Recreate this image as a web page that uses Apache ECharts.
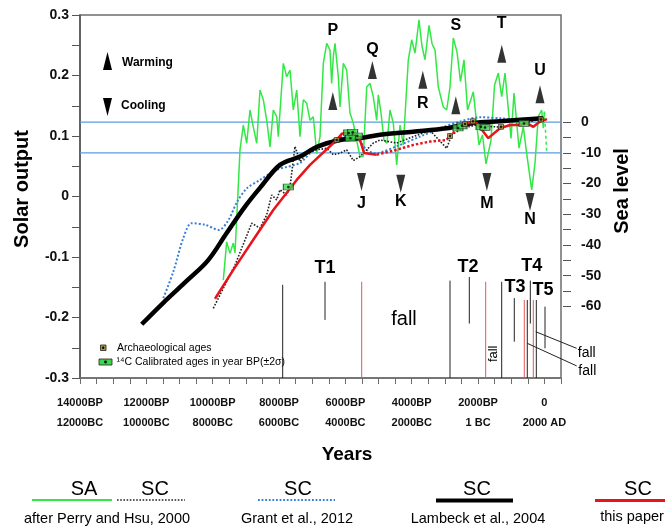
<!DOCTYPE html>
<html><head><meta charset="utf-8">
<script src="https://cdn.jsdelivr.net/npm/echarts@6/dist/echarts.min.js"></script>
<style>html,body{margin:0;padding:0;background:#fff}#c{width:665px;height:526px}</style>
</head><body><div id="c"></div>
<script>
// ---------- data (x = years BP, solar output on left axis, sea level in m on right axis) ----------
const xTickValues = [14000, 12000, 10000, 8000, 6000, 4000, 2000, 0];
const xTickBP  = ['14000BP', '12000BP', '10000BP', '8000BP', '6000BP', '4000BP', '2000BP', '0'];
const xTickCal = ['12000BC', '10000BC', '8000BC', '6000BC', '4000BC', '2000BC', '1 BC', '2000 AD'];
const seaTickLabels = [0, -10, -20, -30, -40, -50, -60];
const seaRefLevels = [0, -10];

// Solar activity (after Perry and Hsu, 2000)
const saPerryHsu = [[9680,-0.138],[9578,-0.075],[9478,-0.094],[9379,-0.077],[9327,-0.093],[9258,-0.017],[9177,0.077],[9077,0.118],[8975,0.088],[8875,0.143],[8776,0.115],[8673,0.088],[8574,0.176],[8474,0.160],[8372,0.126],[8272,0.082],[8173,0.143],[8070,0.132],[8022,0.099],[7871,0.220],[7769,0.198],[7669,0.209],[7570,0.143],[7467,0.176],[7368,0.099],[7268,0.160],[7166,0.154],[7066,0.126],[6967,0.132],[6864,0.071],[6765,0.099],[6665,0.220],[6563,0.253],[6464,0.242],[6413,0.187],[6364,0.231],[6313,0.253],[6213,0.198],[6162,0.148],[6062,0.220],[5960,0.209],[5861,0.138],[5761,0.121],[5659,0.093],[5559,0.066],[5460,0.066],[5357,0.181],[5258,0.187],[5158,0.165],[5056,0.126],[5007,0.168],[4926,0.138],[4836,0.093],[4745,0.088],[4655,0.143],[4555,0.121],[4453,0.052],[4353,0.118],[4254,0.085],[4103,0.226],[4001,0.259],[3901,0.237],[3781,0.292],[3690,0.248],[3600,0.226],[3479,0.283],[3389,0.253],[3298,0.242],[3199,0.181],[3048,0.148],[2946,0.143],[2846,0.181],[2746,0.262],[2635,0.239],[2530,0.190],[2424,0.226],[2318,0.143],[2143,0.173],[1972,0.085],[1866,0.102],[1761,0.054],[1610,0.093],[1504,0.184],[1390,0.204],[1288,0.165],[1188,0.204],[1007,0.096],[917,0.171],[766,0.080],[636,0.115],[534,0.071],[383,0.011],[284,0.055],[184,0.132],[82,0.143],[33,0.113],[0,0.140]];
const saPerryHsuTail = [[0,0.140],[-70,0.072]];

// Sea-level curves (m)
const scPerryHsu = [[9982,-60.6],[9327,-46.5],[8824,-32.9],[8574,-34.5],[8372,-30.2],[8221,-23.7],[8070,-25.3],[7971,-22.0],[7769,-23.7],[7669,-21.0],[7519,-7.9],[7368,-12.8],[7166,-10.1],[6865,-9.0],[6563,-8.5],[6364,-10.6],[6162,-10.1],[5960,-9.0],[5761,-12.5],[5559,-11.2],[5158,-6.8],[4956,-5.8],[4453,-6.8],[3952,-4.7],[3449,-2.7],[2946,-8.5],[2795,-4.1],[2454,-1.9],[2041,-0.9],[1640,-1.4],[1339,-1.6],[938,-0.9],[636,-0.3],[234,0.7]];
const scGrant = [[11489,-57.3],[11187,-48.7],[10886,-37.7],[10633,-32.9],[10232,-33.4],[9810,-35.1],[9539,-32.1],[9267,-26.0],[8975,-21.6],[8574,-18.8],[8070,-15.5],[7368,-13.3],[7066,-10.1],[6563,-6.8],[6262,-5.2],[5960,-4.7],[5659,-5.2],[5357,-9.0],[5107,-10.1],[4354,-7.4],[3750,-4.7],[3147,-2.0],[2545,0.2],[1942,1.6],[1339,1.3],[736,0.7],[33,1.3]];
const scLambeck = [[12140,-65.8],[11489,-58.8],[10744,-51.3],[10141,-45.0],[9578,-36.1],[9026,-27.5],[8574,-21.4],[7971,-13.9],[7368,-11.2],[6825,-7.9],[6162,-5.8],[5559,-5.2],[4956,-4.1],[3961,-3.1],[2946,-2.0],[2153,-0.3],[1339,0.3],[43,1.3]];
const scThisPaperEarly = [[9930,-57.5],[9379,-48.1],[8776,-38.3],[8173,-28.6],[7467,-18.8],[7066,-13.9],[6262,-5.8],[6111,-3.8],[5912,-3.4],[5710,-3.8],[5559,-5.8],[5438,-10.0],[5056,-10.6]];
const scThisPaperMid = [[5056,-10.6],[4453,-9.0],[3952,-7.4],[3449,-6.3],[2946,-5.8],[2846,-4.1],[2545,-2.0],[2394,-0.3]];
const scThisPaperLate = [[2394,-0.3],[2041,-0.3],[1691,-5.2],[1339,-2.0],[1037,-0.9],[736,-0.9],[534,-0.3],[333,-1.5],[133,0.2],[-78,1.0]];

const calibratedAges = [[7720,-21.1],[5900,-3.5],[5780,-3.3],[5640,-4.5],[5850,-5.2],[2605,-1.9],[2484,-1.2],[1912,-1.5],[1791,-1.7],[615,-0.4]];
const archaeoAges = [[6262,-5.8],[2846,-4.5],[2394,-0.6],[2153,0.3],[1309,-1.5],[103,0.9]];

// events: name, BP, letter level, arrow level (solar units)
const warmingEvents = [['P',6378,0.275,0.158],['Q',5187,0.242,0.209],['R',3665,0.153,0.193],['S',2670,0.282,0.151],['T',1287,0.285,0.236],['U',133,0.208,0.169]];
const coolingEvents = [['J',5514,-0.011,0.024],['K',4330,-0.009,0.021],['M',1735,-0.011,0.024],['N',434,-0.038,-0.009]];
const transgressions = [['T1',6614,-0.118],['T2',2304,-0.117],['T3',887,-0.149],['T4',383,-0.115],['T5',42,-0.155]];
// time markers: BP, top, bottom (solar units)
const markersBlack = [[7890,-0.146,-0.3],[6614,-0.141,-0.204],[2846,-0.139,-0.3],[2264,-0.133,-0.210],[1288,-0.141,-0.3],[908,-0.168,-0.240],[516,-0.171,-0.3],[425,-0.139,-0.210],[244,-0.171,-0.3],[-18,-0.182,-0.251]];
const markersRed = [[5508,-0.141,-0.3],[1770,-0.141,-0.3],[606,-0.171,-0.3],[335,-0.171,-0.3]];
const fallLinks = [[262,-0.2235,-972,-0.251],[516,-0.2427,-972,-0.280]];
const fallBig = [['fall',4233,-0.204]];
const fallRotated = [['fall',1550,-0.260]];
const fallSide = [['fall',-1275,-0.259],['fall',-1293,-0.288]];

// ---------- chart ----------
const FONT = '"Liberation Sans", Arial, Helvetica, sans-serif';
const X_MIN = -500, X_MAX = 14000;
const SEA_MIN = -83.3, SEA_MAX = 34.9;
const GREEN = '#33e845', RED = '#e8141c', BLUE = '#3a7fd5', REF = '#5b9be0';

function textSeries(rows, font, rotation) {
  return {
    type: 'custom', xAxisIndex: 0, yAxisIndex: 0, silent: true, clip: false, z: 20,
    data: rows.map(r => [r[1], r[2]]), encode: { x: 0, y: 1 },
    renderItem: (params, api) => {
      const p = api.coord([api.value(0), api.value(1)]);
      return { type: 'text', x: p[0], y: p[1], rotation: rotation || 0,
        style: { text: rows[params.dataIndex][0], font: font, fill: '#000', align: 'center', verticalAlign: 'middle' } };
    }
  };
}
function vlineSeries(rows, color) {
  return {
    type: 'custom', xAxisIndex: 0, yAxisIndex: 0, silent: true, clip: false, z: 5,
    data: rows, encode: { x: 0, y: [1, 2] },
    renderItem: (params, api) => {
      const a = api.coord([api.value(0), api.value(1)]);
      const b = api.coord([api.value(0), api.value(2)]);
      return { type: 'line', shape: { x1: a[0], y1: a[1], x2: b[0], y2: b[1] }, style: { stroke: color, lineWidth: 1 } };
    }
  };
}
function lineS(data, yIdx, color, width, type, z, smooth) {
  return { type: 'line', xAxisIndex: 0, yAxisIndex: yIdx, data: data, showSymbol: false, symbol: 'none', silent: true,
    smooth: smooth || false, z: z || 3, lineStyle: { color: color, width: width, type: type || 'solid' } };
}

const series = [];
seaRefLevels.forEach(l => series.push(lineS([[X_MIN, l], [X_MAX, l]], 1, REF, 1.2, 'solid', 1)));
series.push(vlineSeries(markersBlack, '#222'));
series.push(vlineSeries(markersRed, '#e05858'));
series.push(lineS(saPerryHsu, 0, GREEN, 1.5, 'solid', 2));
series.push(lineS(saPerryHsuTail, 0, GREEN, 1.5, [3, 3], 2));
series.push(lineS(scGrant, 1, BLUE, 2, [2, 2], 3, 0.3));
series.push(lineS(scPerryHsu, 1, '#222', 1.6, [1.6, 1.6], 3));
series.push(lineS(scLambeck, 1, '#000', 4.5, 'solid', 4, 0.35));
series.push(lineS(scThisPaperEarly, 1, RED, 2.5, 'solid', 5));
series.push(lineS(scThisPaperMid, 1, RED, 2.5, [2.5, 2], 5));
series.push(lineS(scThisPaperLate, 1, RED, 2.5, 'solid', 5));
series.push({ type: 'scatter', xAxisIndex: 0, yAxisIndex: 1, data: calibratedAges, symbol: 'rect', symbolSize: [10, 6], silent: true, z: 8,
  itemStyle: { color: '#3dd84a', borderColor: '#222', borderWidth: 0.8 } });
series.push({ type: 'scatter', xAxisIndex: 0, yAxisIndex: 1, data: archaeoAges, symbol: 'rect', symbolSize: [5, 5], silent: true, z: 8,
  itemStyle: { color: '#a39c3e', borderColor: '#222', borderWidth: 0.8 } });
series.push({ type: 'scatter', xAxisIndex: 0, yAxisIndex: 1, data: calibratedAges.concat(archaeoAges), symbol: 'circle', symbolSize: 2.5, silent: true, z: 9,
  itemStyle: { color: '#000' } });
series.push({ type: 'scatter', xAxisIndex: 0, yAxisIndex: 0, data: warmingEvents.map(e => [e[1], e[3]]), symbol: 'triangle', symbolSize: [9, 18], silent: true, z: 10,
  itemStyle: { color: '#000' } });
series.push({ type: 'scatter', xAxisIndex: 0, yAxisIndex: 0, data: coolingEvents.map(e => [e[1], e[3]]), symbol: 'triangle', symbolSize: [9, 18], symbolRotate: 180, silent: true, z: 10,
  itemStyle: { color: '#000' } });
series.push(textSeries(warmingEvents.map(e => [e[0], e[1], e[2]]), 'bold 16px ' + FONT));
series.push(textSeries(coolingEvents.map(e => [e[0], e[1], e[2]]), 'bold 16px ' + FONT));
series.push(textSeries(transgressions, 'bold 18px ' + FONT));
series.push(textSeries(fallBig, '20px ' + FONT));
series.push(textSeries(fallRotated, '13px ' + FONT, Math.PI / 2));
series.push(textSeries(fallSide, '14px ' + FONT));
series.push({
  type: 'custom', xAxisIndex: 0, yAxisIndex: 0, silent: true, clip: false, z: 6,
  data: fallLinks, encode: { x: [0, 2], y: [1, 3] },
  renderItem: (params, api) => {
    const a = api.coord([api.value(0), api.value(1)]);
    const b = api.coord([api.value(2), api.value(3)]);
    return { type: 'line', shape: { x1: a[0], y1: a[1], x2: b[0], y2: b[1] }, style: { stroke: '#222', lineWidth: 1 } };
  }
});

function gText(x, y, text, font, align, rotation) {
  return { type: 'text', x: x, y: y, rotation: rotation || 0, silent: true,
    style: { text: text, font: font, fill: '#000', align: align || 'center', verticalAlign: 'middle' } };
}
function gLine(x1, y, x2, color, width, dash) {
  return { type: 'line', silent: true, shape: { x1: x1, y1: y, x2: x2, y2: y },
    style: { stroke: color, lineWidth: width, lineDash: dash || null } };
}

const graphic = [
  gText(22, 189, 'Solar output', 'bold 20px ' + FONT, 'center', Math.PI / 2),
  gText(622, 191, 'Sea level', 'bold 20px ' + FONT, 'center', Math.PI / 2),
  gText(347, 455, 'Years', 'bold 19px ' + FONT),
  // in-plot legends
  { type: 'polygon', silent: true, shape: { points: [[107.5, 52], [112, 70], [103, 70]] }, style: { fill: '#000' } },
  gText(122, 63, 'Warming', 'bold 12px ' + FONT, 'left'),
  { type: 'polygon', silent: true, shape: { points: [[103, 98], [112, 98], [107.5, 116]] }, style: { fill: '#000' } },
  gText(121, 106, 'Cooling', 'bold 12px ' + FONT, 'left'),
  { type: 'rect', silent: true, shape: { x: 100.5, y: 345, width: 5.5, height: 5.5 }, style: { fill: '#a39c3e', stroke: '#222', lineWidth: 0.8 } },
  { type: 'circle', silent: true, shape: { cx: 103.2, cy: 347.7, r: 1.2 }, style: { fill: '#000' } },
  gText(117, 348, 'Archaeological ages', '10.5px ' + FONT, 'left'),
  { type: 'rect', silent: true, shape: { x: 99, y: 359, width: 13, height: 6 }, style: { fill: '#3dd84a', stroke: '#222', lineWidth: 0.8 } },
  { type: 'circle', silent: true, shape: { cx: 105.5, cy: 362, r: 1.4 }, style: { fill: '#000' } },
  gText(116.5, 362, '\u00b9\u2074C Calibrated ages in year BP(\u00b12\u03c3)', '10.5px ' + FONT, 'left'),
  // bottom legend
  gText(84, 489, 'SA', '20px ' + FONT),
  gLine(32, 500, 112, GREEN, 2),
  gText(155, 489, 'SC', '20px ' + FONT),
  gLine(117, 500, 185, '#222', 1.6, [1.6, 1.6]),
  gText(107, 519, 'after Perry and Hsu, 2000', '14.5px ' + FONT),
  gText(298, 489, 'SC', '20px ' + FONT),
  gLine(258, 500, 335, BLUE, 1.8, [1.8, 1.8]),
  gText(297, 519, 'Grant et al., 2012', '14.5px ' + FONT),
  gText(477, 489, 'SC', '20px ' + FONT),
  gLine(436, 500.5, 513, '#000', 4),
  gText(478, 519, 'Lambeck et al., 2004', '14.5px ' + FONT),
  gText(638, 489, 'SC', '20px ' + FONT),
  gLine(595, 500.5, 665, RED, 3),
  gText(632, 517, 'this paper', '14.5px ' + FONT)
];

const option = {
  animation: false,
  backgroundColor: '#fff',
  grid: [
    { left: 80, top: 15, width: 481, height: 363, show: true, borderColor: '#6e6e6e', borderWidth: 1.5, backgroundColor: 'transparent' },
    { left: 563, top: 122.2, width: 8, height: 184.2 }
  ],
  xAxis: [
    { gridIndex: 0, type: 'value', min: X_MIN, max: X_MAX, interval: 500, inverse: true, position: 'bottom',
      axisLine: { show: true, onZero: false, lineStyle: { color: '#6e6e6e', width: 1.5 } },
      axisTick: { show: true, length: 6, lineStyle: { color: '#6e6e6e' } },
      splitLine: { show: false },
      axisLabel: { margin: 15, lineHeight: 20, fontSize: 11, fontWeight: 'bold', fontFamily: FONT, color: '#111',
        formatter: v => { const i = xTickValues.indexOf(v); return i < 0 ? '' : xTickBP[i] + '\n' + xTickCal[i]; } } },
    { gridIndex: 1, type: 'value', show: false, min: 0, max: 1 }
  ],
  yAxis: [
    { gridIndex: 0, type: 'value', min: -0.3, max: 0.3, interval: 0.1, position: 'left',
      axisLine: { show: true, onZero: false, lineStyle: { color: '#555', width: 1.5 } },
      axisTick: { show: true, length: 8, lineStyle: { color: '#555' } },
      minorTick: { show: true, splitNumber: 2, length: 8, lineStyle: { color: '#555' } },
      splitLine: { show: false }, minorSplitLine: { show: false },
      axisLabel: { margin: 11, fontSize: 14, fontWeight: 'bold', fontFamily: FONT, color: '#111' } },
    { gridIndex: 0, type: 'value', min: SEA_MIN, max: SEA_MAX, show: false, position: 'right',
      axisLine: { onZero: false } },
    { gridIndex: 1, type: 'value', min: -60, max: 0, interval: 5, position: 'right',
      axisLine: { show: false, onZero: false },
      axisTick: { show: true, inside: true, length: 8, lineStyle: { color: '#555' } },
      splitLine: { show: false },
      axisLabel: { margin: 10, fontSize: 14, fontWeight: 'bold', fontFamily: FONT, color: '#111',
        formatter: v => seaTickLabels.indexOf(Math.round(v)) >= 0 && Math.abs(v - Math.round(v)) < 1e-6 ? String(Math.round(v)) : '' } }
  ],
  series: series,
  graphic: graphic
};
const chart = echarts.init(document.getElementById('c'));
chart.setOption(option);
</script>
</body></html>
